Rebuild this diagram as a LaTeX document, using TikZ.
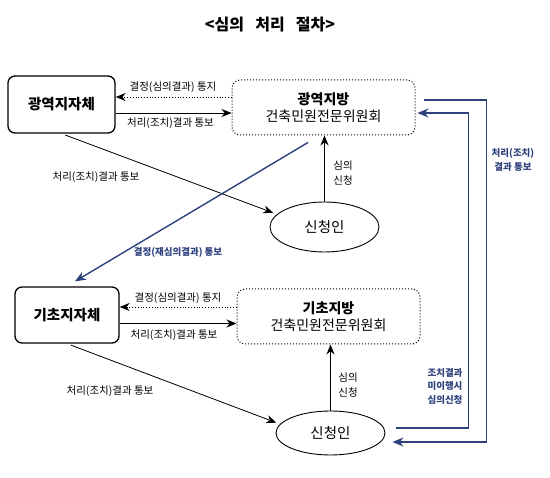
\documentclass[tikz,border=0pt]{standalone}
\usepackage{fontspec}
\setmainfont{Noto Sans CJK KR}
\usetikzlibrary{arrows.meta, shapes.geometric}
\definecolor{navy}{RGB}{45,65,125}
\tikzset{
  gov/.style     = {draw, line width=1.3pt, rounded corners=7pt, font=\fontsize{14.5}{16}\selectfont\bfseries},
  cmte/.style    = {draw, dotted, line width=1pt, rounded corners=8pt, align=center,
                    font=\fontsize{14}{16.5}\selectfont},
  person/.style  = {draw, ellipse, line width=0.9pt, font=\fontsize{14.5}{16}\selectfont},
  arrow/.style   = {-{Stealth[length=10pt,width=8pt]}, line width=0.8pt},
  dotarrow/.style= {arrow, dotted},
  bluearrow/.style = {-{Stealth[length=11pt,width=9pt]}, line width=1.4pt, color=navy},
  lbl/.style     = {font=\fontsize{10.5}{15}\selectfont, align=center},
  bluelbl/.style = {lbl, text=navy, font=\fontsize{9.5}{13.5}\selectfont\bfseries},
}
\begin{document}
\begin{tikzpicture}[x=1pt, y=-1pt]
  \useasboundingbox (0,0) rectangle (550,478);
  \node[font=\fontsize{16}{18}\selectfont\bfseries] (title) at (270,25)
    {<심의\hspace{0.7em}처리\hspace{0.7em}절차>};

  % upper level
  \node[gov, minimum width=107pt, minimum height=57pt] (sido) at (61.5,104.5) {광역지자체};
  \node[cmte, minimum width=183pt, minimum height=55pt] (sidoc) at (323.5,107.5)
    {\textbf{광역지방}\\건축민원전문위원회};
  \node[person, minimum width=109pt, minimum height=50pt] (app1) at (324.5,227) {신청인};

  % lower level
  \node[gov, minimum width=104pt, minimum height=56pt] (sigungu) at (67,315) {기초지자체};
  \node[cmte, minimum width=183pt, minimum height=55pt] (sigunguc) at (328.5,316.5)
    {\textbf{기초지방}\\건축민원전문위원회};
  \node[person, minimum width=109pt, minimum height=44pt] (app2) at (330.5,433) {신청인};

  % upper arrows
  \draw[dotarrow] ([yshift=10.5pt]sidoc.west) -- ([yshift=7.5pt]sido.east);
  \draw[arrow] ([yshift=-8.5pt]sido.east) -- ([yshift=-5.5pt]sidoc.west);
  \draw[arrow, shorten <=4pt, shorten >=4pt] (sido.south) -- (app1.165);
  \draw[arrow] (app1.north) -- (app1.north |- sidoc.south);
  \node[lbl] (l1) at (173,87) {결정(심의결과) 통지};
  \node[lbl] (l2) at (170.5,123) {처리(조치)결과 통보};
  \node[lbl] (l3) at (96,177) {처리(조치)결과 통보};
  \node[lbl] (l4) at (343,173.5) {심의\\신청};

  % re-review result
  \draw[bluearrow] ([xshift=-15.5pt,yshift=-7pt]sidoc.south) -- ([xshift=8pt,yshift=5pt]sigungu.north);
  \node[bluelbl] (l5) at (178,252) {결정(재심의결과) 통보};

  % lower arrows
  \draw[dotarrow] ([yshift=9.5pt]sigunguc.west) -- ([yshift=8pt]sigungu.east);
  \draw[arrow] ([yshift=-8.5pt]sigungu.east) -- ([yshift=-7pt]sigunguc.west);
  \draw[arrow, shorten <=4pt, shorten >=4pt] (sigungu.south) -- (app2.170);
  \draw[arrow] (app2.north) -- (app2.north |- sigunguc.south);
  \node[lbl] (l6) at (178,298) {결정(심의결과) 통지};
  \node[lbl] (l7) at (174,335) {처리(조치)결과 통보};
  \node[lbl] (l8) at (110,391) {처리(조치)결과 통보};
  \node[lbl] (l9) at (348,385) {심의\\신청};

  % loops between the two levels
  \draw[bluearrow] ([xshift=8pt,yshift=7.5pt]sidoc.east) -- ++(63,0) |- ([xshift=7pt,yshift=-9pt]app2.east);
  \draw[bluearrow] ([xshift=11pt,yshift=5pt]app2.east) -- ++(72,0) |- ([xshift=2pt,yshift=-5.5pt]sidoc.east);
  \node[bluelbl] (l10) at (513,160) {처리(조치)\\결과 통보};
  \node[bluelbl] (l11) at (445,386) {조치결과\\미이행시\\심의신청};
\end{tikzpicture}
\end{document}
